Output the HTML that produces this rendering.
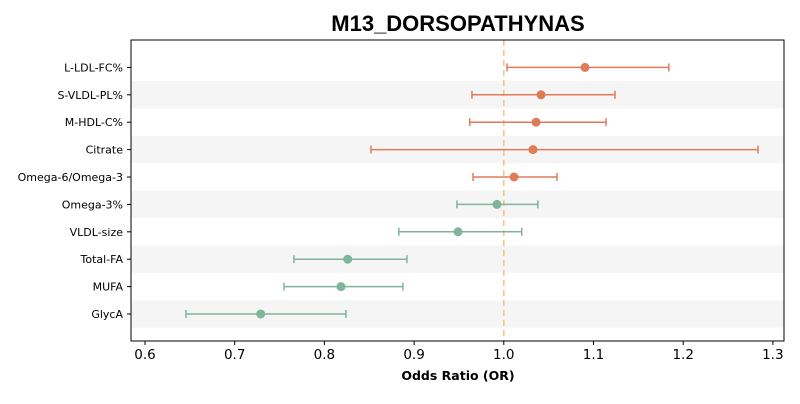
<!DOCTYPE html>
<html><head><meta charset="utf-8"><style>
body{margin:0;background:#fff;font-family:"DejaVu Sans","Liberation Sans",sans-serif}
</style></head><body>
<svg id="c" width="800" height="400" xmlns="http://www.w3.org/2000/svg" font-family="DejaVu Sans, Liberation Sans, sans-serif">
<text x="458" y="31" text-anchor="middle" font-size="22" font-weight="bold" fill="#000" font-family="Liberation Sans, sans-serif">M13_DORSOPATHYNAS</text>
<g id="plot"></g>
</svg>
<script>
const labels=["GlycA","MUFA","Total-FA","VLDL-size","Omega-3%","Omega-6/Omega-3","Citrate","M-HDL-C%","S-VLDL-PL%","L-LDL-FC%"];
const orVals=[0.729,0.8185,0.826,0.949,0.9924,1.0114,1.0325,1.036,1.0415,1.0905];
const loVals=[0.6457,0.755,0.766,0.883,0.9478,0.9657,0.852,0.962,0.9645,1.0036];
const hiVals=[0.824,0.8876,0.892,1.020,1.038,1.0593,1.2834,1.114,1.124,1.184];
const xTicks=[0.6,0.7,0.8,0.9,1.0,1.1,1.2,1.3];
const ns="http://www.w3.org/2000/svg";
const g=document.getElementById('plot');
const X=v=>145+(v-0.6)*897;
const Y=i=>314-i*27.4;
function mk(t,a){const e=document.createElementNS(ns,t);for(const k in a)e.setAttribute(k,a[k]);g.appendChild(e);return e;}
const L=131,R=784,T=40,B=341;
labels.forEach((l,i)=>{if(i%2===0){const r=mk('rect',{x:L,y:Y(i)-13.7,width:R-L,height:27.4,fill:'#f5f5f5'});

}});
const d=mk('line',{x1:X(1),x2:X(1),y1:T,y2:B,stroke:'#f5c27f','stroke-width':1.5,'stroke-dasharray':'6,4'});


labels.forEach((l,i)=>{
const y=Y(i),col=orVals[i]>=1?'#e07b5a':'#7fb59a';
const ln=mk('line',{x1:X(loVals[i]),x2:X(hiVals[i]),y1:y,y2:y,stroke:col,'stroke-width':1.5});


[loVals[i],hiVals[i]].forEach(v=>{const c=mk('line',{x1:X(v),x2:X(v),y1:y-4,y2:y+4,stroke:col,'stroke-width':1.5});

});
const p=mk('circle',{cx:X(orVals[i]),cy:y,r:4.5,fill:col});


mk('line',{x1:L-4,x2:L,y1:y,y2:y,stroke:'#000'});
const t=mk('text',{x:L-8,y:y+4,'text-anchor':'end','font-size':11,fill:'#000'});t.textContent=l;


});
const fr=mk('rect',{x:L,y:T,width:R-L,height:B-T,fill:'none',stroke:'#000','stroke-width':1});


xTicks.forEach(v=>{mk('line',{x1:X(v),x2:X(v),y1:B,y2:B+4,stroke:'#000'});
const t=mk('text',{x:X(v),y:B+18,'text-anchor':'middle','font-size':13.5,fill:'#000'});t.textContent=v.toFixed(1);

});
const xt=mk('text',{x:458,y:380,'text-anchor':'middle','font-size':12.5,'font-weight':'bold',fill:'#000'});xt.textContent='Odds Ratio (OR)';


</script>
</body></html>
